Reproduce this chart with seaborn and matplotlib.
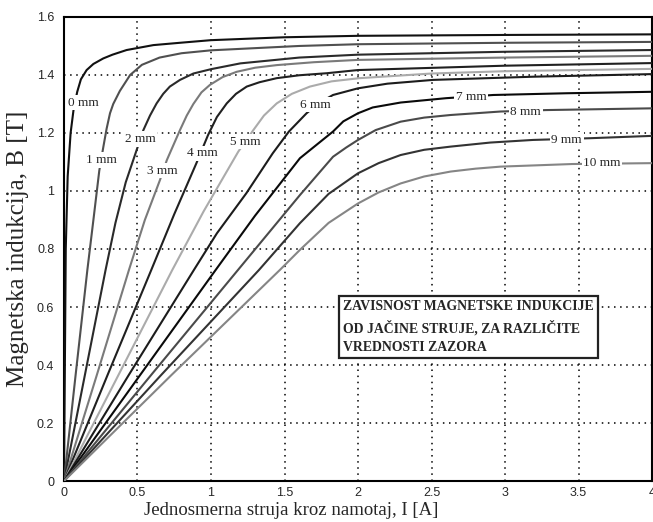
import pandas as pd
import numpy as np
import matplotlib
matplotlib.use("Agg")
import matplotlib.pyplot as plt
import seaborn as sns

# Current I [A] and induction B [T], one pair per air gap
I_0mm = [0, 0.006, 0.012, 0.025, 0.045, 0.065, 0.09, 0.115, 0.154, 0.2, 0.267, 0.33, 0.426, 0.608, 0.789, 1.0, 1.5, 2.0, 3.0, 4.0]
B_0mm = [0, 0.40, 0.80, 1.05, 1.20, 1.28, 1.342, 1.385, 1.417, 1.438, 1.457, 1.47, 1.486, 1.503, 1.511, 1.52, 1.53, 1.535, 1.538, 1.54]

I_1mm = [0, 0.08, 0.159, 0.2, 0.24, 0.267, 0.29, 0.313, 0.335, 0.38, 0.45, 0.53, 0.65, 0.8, 1.0, 1.6, 2.0, 3.0, 4.0]
B_1mm = [0, 0.37, 0.728, 0.90, 1.07, 1.15, 1.215, 1.268, 1.30, 1.345, 1.40, 1.435, 1.46, 1.475, 1.485, 1.50, 1.506, 1.511, 1.514]

I_2mm = [0, 0.14, 0.283, 0.35, 0.42, 0.48, 0.54, 0.585, 0.63, 0.675, 0.72, 0.789, 0.88, 1.0, 1.2, 1.6, 2.0, 3.0, 4.0]
B_2mm = [0, 0.36, 0.728, 0.89, 1.03, 1.12, 1.21, 1.26, 1.302, 1.335, 1.36, 1.383, 1.405, 1.42, 1.44, 1.46, 1.47, 1.48, 1.486]

I_3mm = [0, 0.22, 0.442, 0.55, 0.653, 0.70, 0.789, 0.835, 0.88, 0.935, 0.993, 1.08, 1.175, 1.3, 1.447, 1.7, 2.0, 3.0, 4.0]
B_3mm = [0, 0.36, 0.728, 0.90, 1.038, 1.107, 1.21, 1.26, 1.30, 1.34, 1.366, 1.393, 1.411, 1.425, 1.434, 1.444, 1.452, 1.46, 1.466]

I_4mm = [0, 0.30, 0.594, 0.75, 0.90, 0.98, 1.04, 1.107, 1.17, 1.243, 1.33, 1.447, 1.6, 1.787, 2.0, 3.0, 4.0]
B_4mm = [0, 0.37, 0.728, 0.92, 1.095, 1.193, 1.255, 1.302, 1.335, 1.36, 1.375, 1.389, 1.399, 1.406, 1.417, 1.432, 1.441]

I_5mm = [0, 0.37, 0.737, 0.95, 1.186, 1.288, 1.36, 1.447, 1.55, 1.673, 1.82, 2.01, 2.5, 3.0, 4.0]
B_5mm = [0, 0.365, 0.728, 0.93, 1.136, 1.21, 1.26, 1.302, 1.335, 1.36, 1.378, 1.389, 1.405, 1.413, 1.421]

I_6mm = [0, 0.44, 0.884, 1.04, 1.24, 1.42, 1.53, 1.65, 1.74, 1.83, 2.0, 2.2, 2.51, 3.19, 4.0]
B_6mm = [0, 0.365, 0.728, 0.854, 0.992, 1.13, 1.205, 1.268, 1.305, 1.331, 1.354, 1.37, 1.383, 1.394, 1.403]

I_7mm = [0, 0.52, 1.032, 1.30, 1.605, 1.83, 1.9, 2.0, 2.1, 2.29, 2.60, 2.92, 3.42, 4.0]
B_7mm = [0, 0.367, 0.728, 0.915, 1.113, 1.205, 1.24, 1.268, 1.288, 1.305, 1.32, 1.331, 1.337, 1.342]

I_8mm = [0, 0.60, 1.184, 1.605, 1.83, 1.92, 2.0, 2.12, 2.29, 2.45, 2.63, 2.97, 3.28, 4.0]
B_8mm = [0, 0.37, 0.728, 0.986, 1.118, 1.15, 1.176, 1.21, 1.239, 1.253, 1.262, 1.274, 1.279, 1.285]

I_9mm = [0, 0.66, 1.327, 1.605, 1.80, 2.0, 2.14, 2.29, 2.45, 2.63, 2.9, 3.19, 3.58, 4.0]
B_9mm = [0, 0.365, 0.728, 0.889, 0.99, 1.061, 1.096, 1.124, 1.142, 1.153, 1.167, 1.176, 1.182, 1.19]

I_10mm = [0, 0.73, 1.469, 1.605, 1.80, 2.0, 2.14, 2.29, 2.45, 2.63, 2.8, 2.97, 3.46, 4.0]
B_10mm = [0, 0.365, 0.728, 0.797, 0.89, 0.957, 0.995, 1.026, 1.05, 1.067, 1.077, 1.084, 1.093, 1.096]

gap_names = ['0 mm', '1 mm', '2 mm', '3 mm', '4 mm', '5 mm', '6 mm', '7 mm', '8 mm', '9 mm', '10 mm']
currents = [I_0mm, I_1mm, I_2mm, I_3mm, I_4mm, I_5mm, I_6mm, I_7mm, I_8mm, I_9mm, I_10mm]
inductions = [B_0mm, B_1mm, B_2mm, B_3mm, B_4mm, B_5mm, B_6mm, B_7mm, B_8mm, B_9mm, B_10mm]

# where the inline curve labels sit
label_I = [0.13, 0.252, 0.517, 0.667, 0.942, 1.231, 1.707, 2.77, 3.14, 3.42, 3.66]
label_B = [1.304, 1.107, 1.179, 1.07, 1.13, 1.17, 1.297, 1.325, 1.273, 1.176, 1.096]

line_colors = ['#111111', '#505050', '#2a2a2a', '#7a7a7a', '#202020', '#ababab',
               '#1c1c1c', '#0a0a0a', '#4a4a4a', '#333333', '#858585']

xticks = [0, 0.5, 1, 1.5, 2, 2.5, 3, 3.5, 4]
xtick_labels = ['0', '0.5', '1', '1.5', '2', '2.5', '3', '3.5', '4']
yticks = [0, 0.2, 0.4, 0.6, 0.8, 1.0, 1.2, 1.4, 1.6]
ytick_labels = ['0', '0.2', '0.4', '0.6', '0.8', '1', '1.2', '1.4', '1.6']

box_text = 'ZAVISNOST MAGNETSKE INDUKCIJE\nOD JAČINE STRUJE, ZA RAZLIČITE\nVREDNOSTI ZAZORA'

rows = []
for name, xs, ys in zip(gap_names, currents, inductions):
    for x, y in zip(xs, ys):
        rows.append({'Gap': name, 'I': x, 'B': y})
df = pd.DataFrame(rows)

sns.set_style('white')
plt.rcParams['font.family'] = ['Liberation Serif', 'DejaVu Serif']

fig = plt.figure(figsize=(6.53, 5.22), dpi=100)
ax = fig.add_axes([0.098, 0.0785, 0.9005, 0.889])

sns.lineplot(data=df, x='I', y='B', hue='Gap', hue_order=gap_names,
             palette=dict(zip(gap_names, line_colors)), estimator=None,
             sort=False, linewidth=1.5, legend=False, ax=ax, zorder=3)

for name, x, y in zip(gap_names, label_I, label_B):
    ax.text(x, y, name, fontsize=9.5, ha='center', va='center', zorder=5,
            bbox=dict(boxstyle='square,pad=0.12', facecolor='white', edgecolor='none'))

ax.text(1.9, 0.531, box_text, fontsize=9.9, fontweight='bold', ha='left', va='center',
        linespacing=1.55, zorder=6,
        bbox=dict(boxstyle='square,pad=0.3', facecolor='white', edgecolor='#222222', linewidth=1.6))

ax.set_xlim(0, 4)
ax.set_ylim(0, 1.6)
ax.set_xticks(xticks)
ax.set_xticklabels(xtick_labels, family=['Liberation Sans', 'DejaVu Sans'], fontsize=9)
ax.set_yticks(yticks)
ax.set_yticklabels(ytick_labels, family=['Liberation Sans', 'DejaVu Sans'], fontsize=9)
ax.tick_params(direction='in', length=4, width=1, pad=4)
ax.tick_params(axis='y', pad=7)

ax.grid(True, color='black', linestyle=(0, (1, 3)), linewidth=1.1)
for s in ax.spines.values():
    s.set_color('black')
    s.set_linewidth(1.5)

ax.set_xlabel('Jednosmerna struja kroz namotaj, I [A]', fontsize=13.5)
ax.set_ylabel('Magnetska indukcija, B [T]', fontsize=18)
ax.xaxis.set_label_coords(0.386, -0.045)
ax.yaxis.set_label_coords(-0.06, 0.5)

fig.savefig('out.png', dpi=100)
